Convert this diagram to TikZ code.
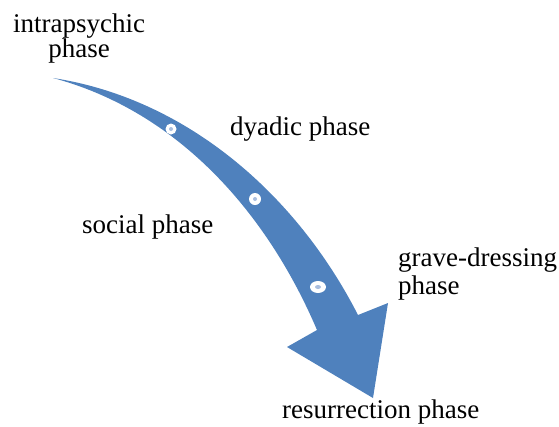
\documentclass[tikz,border=0pt]{standalone}
\usepackage{fontspec}
\setmainfont{Liberation Serif}
\definecolor{arrowblue}{HTML}{4F81BD}
\definecolor{dotblue}{HTML}{A9BEDF}
\begin{document}
\begin{tikzpicture}[x=1pt,y=-1pt,
  label/.style={inner sep=0pt, font=\fontsize{27}{25}\selectfont},
  marker/.style={fill=white, draw=none},
  markerdot/.style={fill=dotblue, draw=none}]
\useasboundingbox (0,0) rectangle (559,426);

% curved block arrow: outer edge, head, inner edge back to the tail
\fill[arrowblue]
  (53,78) .. controls (188.4,98.9) and (297.4,196.3) .. (358,315)
  -- (388,303) -- (373,398) -- (287,347) -- (317,330)
  .. controls (268,215) and (180,112) .. (53,78)
  -- cycle;

% phase markers on the arrow
\fill[marker] (171,129) circle (5.5);
\fill[markerdot] (171,129) circle (2);
\fill[marker] (255,199) circle (6);
\fill[markerdot] (255,199) circle (2);
\fill[marker] (318,287) ellipse (8 and 6);
\fill[markerdot] (318,287) ellipse (3 and 2);

% phase labels
\node[label, align=center, anchor=base] (intra) at (79,57) {intrapsychic\\phase};
\node[label, anchor=base west] (dyad) at (230,135) {dyadic phase};
\node[label, anchor=base west] (social) at (82,233) {social phase};
\node[label, align=left, anchor=base west, font=\fontsize{27}{28}\selectfont] (grave) at (398,294) {grave-dressing\\phase};
\node[label, anchor=base west] (resur) at (282,418) {resurrection phase};
\end{tikzpicture}
\end{document}
